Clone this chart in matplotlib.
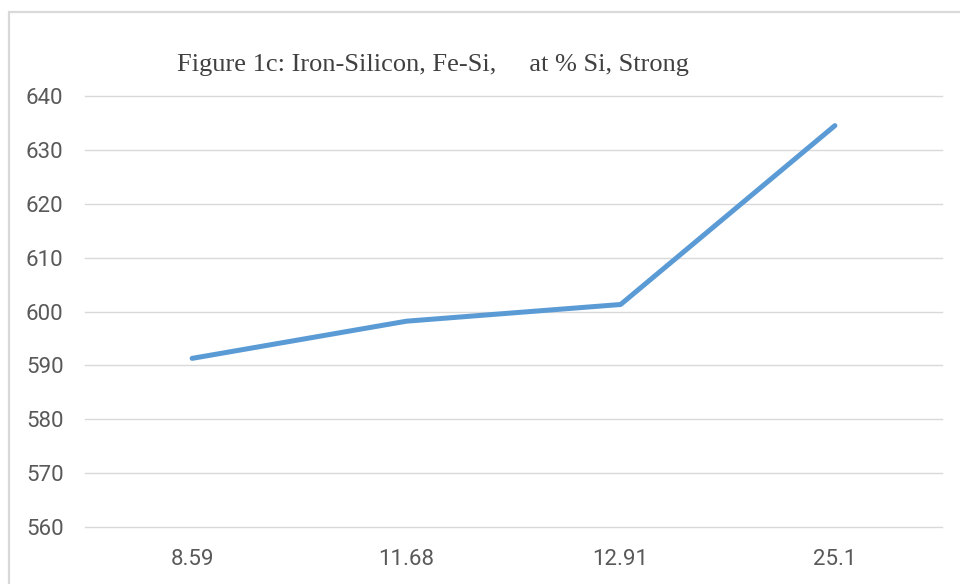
import matplotlib
matplotlib.use('Agg')
import matplotlib.pyplot as plt
import matplotlib.patches as mpatches

# data
categories = ['8.59', '11.68', '12.91', '25.1']
values = [591.3, 598.2, 601.3, 634.5]
y_ticks = [560, 570, 580, 590, 600, 610, 620, 630, 640]
title = 'Figure 1c: Iron-Silicon, Fe-Si,     at % Si, Strong'

W, H = 960, 584

def main():
    fig = plt.figure(figsize=(W / 100, H / 100), dpi=100)
    fig.patch.set_facecolor('white')

    # light gray chart frame, cut off at the right/bottom like the screenshot
    frame = mpatches.Rectangle((9 / W, -0.05), 1.1, 1 - 12 / H + 0.05,
                               transform=fig.transFigure, fill=False,
                               edgecolor='#d9d9d9', linewidth=1.6)
    fig.patches.append(frame)

    left, right = 85 / W, 942 / W
    bottom, top = 1 - 527 / H, 1 - 96 / H
    ax = fig.add_axes([left, bottom, right - left, top - bottom])

    x = list(range(len(categories)))
    ax.plot(x, values, color='#5b9bd5', linewidth=3.6,
            solid_joinstyle='round', solid_capstyle='round', zorder=3)

    ax.set_xlim(-0.5, len(categories) - 0.5)
    ax.set_ylim(560, 640)
    ax.set_yticks(y_ticks)
    ax.set_xticks(x)
    ax.set_xticklabels(categories)

    ax.grid(axis='y', color='#d9d9d9', linewidth=1.0)
    ax.set_axisbelow(True)
    for gl in ax.get_ygridlines():
        gl.set_clip_on(False)
    for s in ax.spines.values():
        s.set_visible(False)
    ax.tick_params(axis='both', length=0, labelsize=16, labelcolor='#595959')
    ax.tick_params(axis='y', pad=15.5)
    ax.tick_params(axis='x', pad=16)
    for lab in ax.get_xticklabels() + ax.get_yticklabels():
        lab.set_family(['Roboto', 'DejaVu Sans'])

    fig.text(433 / W, 1 - 65 / H, title, ha='center', va='center',
             fontsize=19, color='#404040', family='Liberation Serif')

    fig.savefig('out.png', dpi=100)

if __name__ == '__main__':
    main()
